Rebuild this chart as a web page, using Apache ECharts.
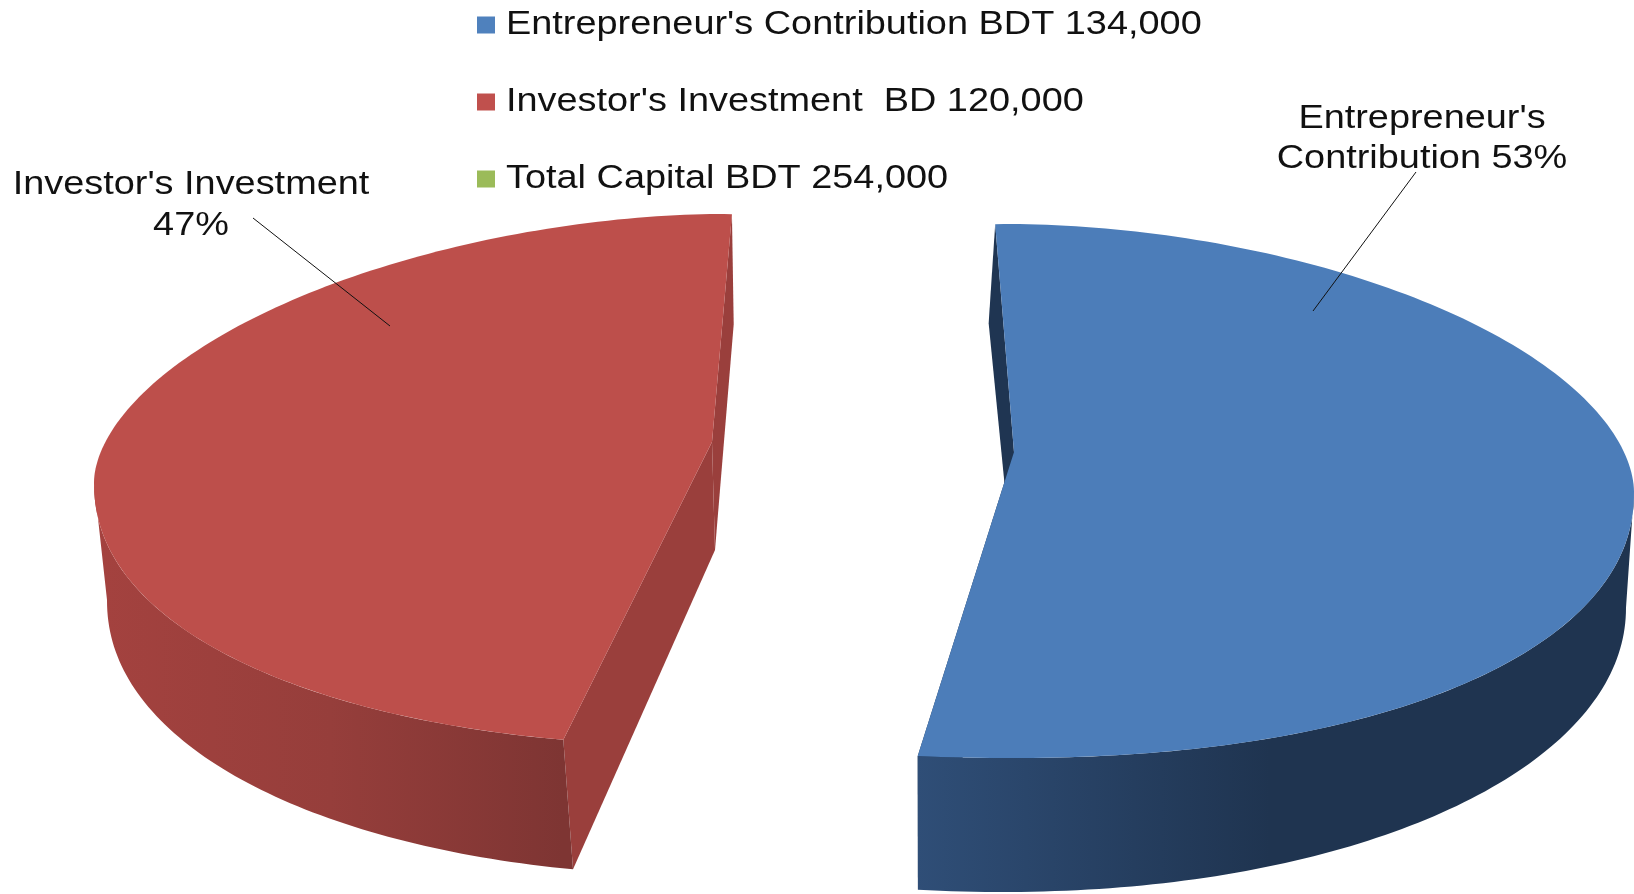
<!DOCTYPE html>
<html>
<head>
<meta charset="utf-8">
<style>html,body{margin:0;padding:0;background:#fff}#c{width:1634px;height:894px}</style>
<script src="https://cdn.jsdelivr.net/npm/echarts@6/dist/echarts.min.js"></script>
</head>
<body>
<div id="c"></div>
<script>
var categories = ["Entrepreneur's Contribution", "Investor's Investment", "Total Capital"];
var legendLabels = ["Entrepreneur's Contribution BDT 134,000", "Investor's Investment  BD 120,000", "Total Capital BDT 254,000"];
var sliceValues = [134000, 120000];
var colors = ['#4F81BD', '#C0504D', '#9BBB59'];
var faceColors = ['#4C7DB9', '#BD4F4B'];
var textStretch = 1.114;

var layouts = [
  { top:{cx:1010,cy:492,rx:624,ry:268,ryL:266,nU:1.85,nL:2.15}, bottom:{cx:1002,cy:607.5,rx:624,ry:284.5,ryL:284.5,nU:1.8,nL:2.05},
    apexTop:[1014,452], apexBottom:[1016,600], phi0:-1.8, k:0.996,
    wall:'#1F3552', grad:[[917,'#2F4E77'],[1270,'#1F3450'],[1634,'#1F3450']],
    labelLines:["Entrepreneur's","Contribution {p}%"], labelX:1422, labelY:[119,159],
    leader:[[1416,172],[1313,311]] },
  { top:{cx:718,cy:482,rx:624,ry:268,ryL:264,nU:1.8,nL:2.15}, bottom:{cx:720,cy:600,rx:613,ry:276,ryL:276,nU:1.8,nL:2.1},
    apexTop:[712,442], apexBottom:[715,550], phi0:192.9, k:0.9935,
    wall:'#9A3F3C', grad:[[94,'#A4423F'],[330,'#963E3B'],[563,'#7E3533']],
    labelLines:["Investor's Investment","{p}%"], labelX:191, labelY:[185,226],
    leader:[[253,218],[390,326]] }
];

var total = sliceValues.reduce(function(a,b){return a+b;},0);

function rim(e, deg){
  var a = deg*Math.PI/180, s = Math.sin(a), c = Math.cos(a);
  var p = 2/(c >= 0 ? e.nU : e.nL);
  var ry = c >= 0 ? e.ry : e.ryL;
  return [e.cx + e.rx*(s<0?-1:1)*Math.pow(Math.abs(s),p), e.cy - ry*(c<0?-1:1)*Math.pow(Math.abs(c),p)];
}
function arc(e, from, to){
  var pts = [], n = Math.max(2, Math.ceil(Math.abs(to-from)));
  for (var i=0;i<=n;i++) pts.push(rim(e, from+(to-from)*i/n));
  return pts;
}
function makeRender(idx){
  return function(params, api){
    var L = layouts[idx], v = api.value(0);
    var sweep = v/total*360*L.k, a0 = L.phi0, a1 = a0+sweep;
    var wallFrom = Math.max(a0,90), wallTo = Math.min(a1,270);
    var first = L.grad[0][0], last = L.grad[L.grad.length-1][0];
    var grad = new echarts.graphic.LinearGradient(first,0,last,0,
      L.grad.map(function(g){return {offset:(g[0]-first)/(last-first),color:g[1]};}),true);
    var band = arc(L.top,wallFrom,wallTo).concat(arc(L.bottom,wallFrom,wallTo).reverse());
    var pct = Math.round(v/total*100);
    var kids = [
      {type:'polygon',shape:{points:[L.apexTop,rim(L.top,a0),rim(L.bottom,a0),L.apexBottom]},style:{fill:L.wall}},
      {type:'polygon',shape:{points:[L.apexTop,rim(L.top,a1),rim(L.bottom,a1),L.apexBottom]},style:{fill:L.wall}},
      {type:'polygon',shape:{points:band},style:{fill:grad}},
      {type:'polygon',shape:{points:[L.apexTop].concat(arc(L.top,a0,a1))},style:{fill:faceColors[idx]}},
      {type:'line',shape:{x1:L.leader[0][0],y1:L.leader[0][1],x2:L.leader[1][0],y2:L.leader[1][1]},style:{stroke:'#111',lineWidth:1}}
    ];
    L.labelLines.forEach(function(t,i){
      kids.push({type:'text',x:L.labelX,y:L.labelY[i],scaleX:textStretch,
        style:{text:t.replace('{p}',pct),x:0,y:0,
        align:'center',verticalAlign:'middle',font:'34px "Liberation Sans"',fill:'#111'}});
    });
    return {type:'group',children:kids};
  };
}
var series = categories.map(function(name,i){
  return {
    type:'custom', name:name, coordinateSystem:'none',
    itemStyle:{color:colors[i]},
    animation:false, silent:true,
    renderItem: i<sliceValues.length ? makeRender(i) : function(){return null;},
    data: i<sliceValues.length ? [[sliceValues[i]]] : []
  };
});
var chart = echarts.init(document.getElementById('c'),null,{renderer:'canvas',width:1634,height:894});
chart.setOption({
  backgroundColor:'#fff', animation:false, color:colors,
  legend:{
    orient:'vertical', left:477, top:8, itemWidth:18, itemHeight:17, itemGap:43,
    selectedMode:false, icon:'rect', padding:0,
    data:categories.map(function(n){return {name:n,icon:'rect'};}),
    formatter:function(n){return legendLabels[categories.indexOf(n)];},
    textStyle:{fontFamily:'Liberation Sans',fontSize:34,color:'#111',padding:[0,0,0,6]}
  },
  series:series
});
// Stretch the legend's real text horizontally to the reference's wide lettering.
function stretchLegend(){
  chart.getZr().storage.getDisplayList(true).forEach(function(el){
    var txt = el.style && el.style.text;
    if (legendLabels.indexOf(txt) < 0) return;
    var host = el;
    while (host.parent && host.parent.style && host.parent.style.text === txt) host = host.parent;
    if (host.__stretched) return;
    host.__stretched = true;
    var r = host.getBoundingRect();
    host.originX = r.x; host.originY = 0;
    host.scaleX = textStretch;
    host.markRedraw && host.markRedraw();
  });
  chart.getZr().refresh();
}
chart.on('finished', stretchLegend);
stretchLegend();
</script>
</body>
</html>
